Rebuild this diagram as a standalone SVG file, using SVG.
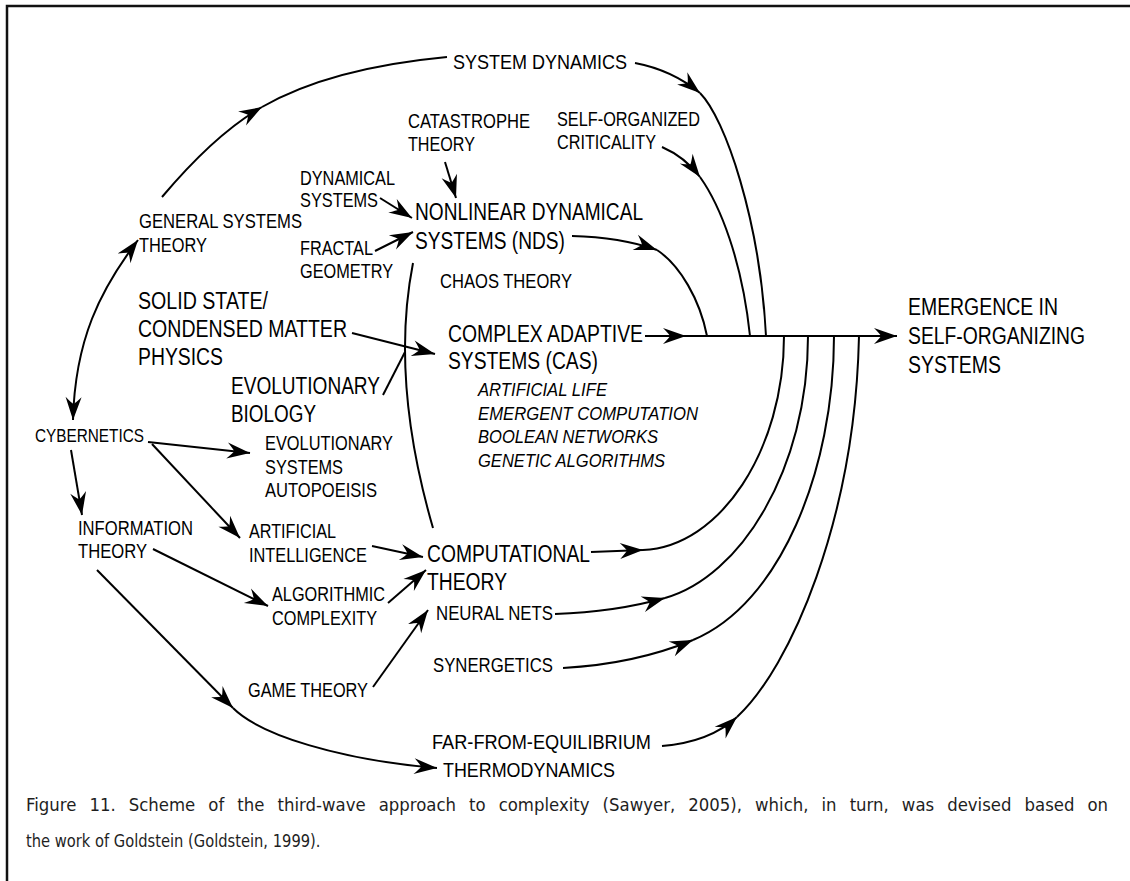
<svg xmlns="http://www.w3.org/2000/svg" width="1130" height="881" viewBox="0 0 1130 881">
  <style>
    text { font-family: "Liberation Sans Narrow", "Liberation Sans", Arial, sans-serif; fill: #000; }
    .L { font-size: 23px; }
    .M { font-size: 21px; }
    .S { font-size: 19px; }
    .I { font-size: 19px; font-style: italic; }
    .cap { font-family: "DejaVu Sans", Verdana, sans-serif; font-size: 17px; fill: #1e1e1e; }
    .ln { fill: none; stroke: #000; stroke-width: 2; }
    .a { marker-end: url(#ah); }
    .frame { fill: none; stroke: #111; stroke-width: 2.5; }
  </style>
  <defs>
    <marker id="ah" markerUnits="userSpaceOnUse" viewBox="-26 -10 28 20" markerWidth="28" markerHeight="20" refX="0" refY="0" orient="auto">
      <path d="M0,0 L-23,-8 Q-17,-2 -16,0 Q-17,2 -23,8 Z" fill="#000"/>
    </marker>
    <marker id="ahs" markerUnits="userSpaceOnUse" viewBox="-26 -10 28 20" markerWidth="28" markerHeight="20" refX="0" refY="0" orient="auto-start-reverse">
      <path d="M0,0 L-23,-8 Q-17,-2 -16,0 Q-17,2 -23,8 Z" fill="#000"/>
    </marker>
  </defs>

  <!-- outer frame (top and left edges) -->
  <path class="frame" d="M7,881 L7,6 L1130,6"/>

  <!-- connectors -->
  <g id="connectors">
    <!-- general systems theory to system dynamics -->
    <path class="ln a" d="M162,197 Q215,134 262,107"/>
    <path class="ln" d="M262,107 Q330,68 447,57"/>
    <!-- cybernetics <-> general systems theory -->
    <path class="ln" marker-start="url(#ahs)" marker-end="url(#ahs)" d="M73,420 C75,340 100,290 138,240"/>
    <!-- system dynamics into the main line -->
    <path class="ln a" d="M635,63 Q672,70 700,93"/>
    <path class="ln" d="M700,93 C725,118 760,220 766,336"/>
    <!-- self-organized criticality into the main line -->
    <path class="ln a" d="M662,147 Q685,157 700,177"/>
    <path class="ln" d="M700,177 C720,205 742,260 750,336"/>
    <!-- NDS into the main line -->
    <path class="ln a" d="M572,236 Q620,237 657,250"/>
    <path class="ln" d="M657,250 C680,265 700,300 707,336"/>
    <!-- CAS into the main line, main line to emergence -->
    <path class="ln a" d="M645,336 L686,336"/>
    <path class="ln a" d="M686,336 L897,336"/>
    <!-- inputs to NDS -->
    <path class="ln a" d="M380,198 L412,218"/>
    <path class="ln a" d="M375,251 L413,232"/>
    <path class="ln a" d="M445,162 L456,198"/>
    <!-- NDS down to computational theory -->
    <path class="ln" d="M413,263 Q390,380 433,528"/>
    <!-- solid state / evolutionary biology to CAS -->
    <path class="ln a" d="M352,333 L435,354"/>
    <path class="ln" d="M383,395 L405,352"/>
    <!-- cybernetics branches -->
    <path class="ln a" d="M148,442 L250,453"/>
    <path class="ln a" d="M152,444 L240,538"/>
    <path class="ln a" d="M71,450 L82,515"/>
    <!-- information theory branches -->
    <path class="ln a" d="M153,549 L268,606"/>
    <path class="ln a" d="M97,570 L233,708"/>
    <path class="ln a" d="M233,708 C260,735 340,760 437,768"/>
    <!-- inputs to computational theory -->
    <path class="ln a" d="M372,546 L423,557"/>
    <path class="ln a" d="M388,603 L426,570"/>
    <path class="ln a" d="M373,687 L428,610"/>
    <!-- lower streams joining the main line -->
    <path class="ln a" d="M591,552 L643,550"/>
    <path class="ln" d="M643,550 C720,547 784,450 784,336"/>
    <path class="ln a" d="M555,614 Q615,612 665,598"/>
    <path class="ln" d="M665,598 C740,577 808,470 808,336"/>
    <path class="ln a" d="M563,668 Q635,664 693,640"/>
    <path class="ln" d="M693,640 C780,604 834,470 834,336"/>
    <path class="ln a" d="M662,746 Q710,742 737,717"/>
    <path class="ln" d="M737,717 C790,668 855,520 859,336"/>
  </g>

  <!-- nodes -->
  <g id="system-dynamics"><text class="M" x="453" y="69" textLength="174" lengthAdjust="spacingAndGlyphs">SYSTEM DYNAMICS</text></g>
  <g id="catastrophe-theory">
    <text class="M" x="408" y="128" textLength="122" lengthAdjust="spacingAndGlyphs">CATASTROPHE</text>
    <text class="M" x="408" y="151" textLength="67" lengthAdjust="spacingAndGlyphs">THEORY</text>
  </g>
  <g id="self-organized-criticality">
    <text class="M" x="557" y="126" textLength="143" lengthAdjust="spacingAndGlyphs">SELF-ORGANIZED</text>
    <text class="M" x="557" y="149" textLength="99" lengthAdjust="spacingAndGlyphs">CRITICALITY</text>
  </g>
  <g id="dynamical-systems">
    <text class="M" x="300" y="185" textLength="95" lengthAdjust="spacingAndGlyphs">DYNAMICAL</text>
    <text class="M" x="300" y="207" textLength="78" lengthAdjust="spacingAndGlyphs">SYSTEMS</text>
  </g>
  <g id="nds">
    <text class="L" x="415" y="220" textLength="228" lengthAdjust="spacingAndGlyphs">NONLINEAR DYNAMICAL</text>
    <text class="L" x="415" y="249" textLength="150" lengthAdjust="spacingAndGlyphs">SYSTEMS (NDS)</text>
  </g>
  <g id="general-systems-theory">
    <text class="M" x="139" y="228" textLength="163" lengthAdjust="spacingAndGlyphs">GENERAL SYSTEMS</text>
    <text class="M" x="139" y="252" textLength="68" lengthAdjust="spacingAndGlyphs">THEORY</text>
  </g>
  <g id="fractal-geometry">
    <text class="M" x="300" y="255" textLength="73" lengthAdjust="spacingAndGlyphs">FRACTAL</text>
    <text class="M" x="300" y="278" textLength="93" lengthAdjust="spacingAndGlyphs">GEOMETRY</text>
  </g>
  <g id="chaos-theory"><text class="M" x="440" y="288" textLength="132" lengthAdjust="spacingAndGlyphs">CHAOS THEORY</text></g>
  <g id="solid-state">
    <text class="L" x="138" y="309" textLength="130" lengthAdjust="spacingAndGlyphs">SOLID STATE/</text>
    <text class="L" x="138" y="337" textLength="209" lengthAdjust="spacingAndGlyphs">CONDENSED MATTER</text>
    <text class="L" x="138" y="365" textLength="85" lengthAdjust="spacingAndGlyphs">PHYSICS</text>
  </g>
  <g id="cas">
    <text class="L" x="448" y="342" textLength="195" lengthAdjust="spacingAndGlyphs">COMPLEX ADAPTIVE</text>
    <text class="L" x="448" y="369" textLength="150" lengthAdjust="spacingAndGlyphs">SYSTEMS (CAS)</text>
    <text class="I" x="478" y="396" textLength="129" lengthAdjust="spacingAndGlyphs">ARTIFICIAL LIFE</text>
    <text class="I" x="478" y="420" textLength="220" lengthAdjust="spacingAndGlyphs">EMERGENT COMPUTATION</text>
    <text class="I" x="478" y="443" textLength="180" lengthAdjust="spacingAndGlyphs">BOOLEAN NETWORKS</text>
    <text class="I" x="478" y="467" textLength="187" lengthAdjust="spacingAndGlyphs">GENETIC ALGORITHMS</text>
  </g>
  <g id="emergence">
    <text class="L" x="908" y="315" textLength="150" lengthAdjust="spacingAndGlyphs">EMERGENCE IN</text>
    <text class="L" x="908" y="344" textLength="177" lengthAdjust="spacingAndGlyphs">SELF-ORGANIZING</text>
    <text class="L" x="908" y="373" textLength="93" lengthAdjust="spacingAndGlyphs">SYSTEMS</text>
  </g>
  <g id="evolutionary-biology">
    <text class="L" x="231" y="394" textLength="149" lengthAdjust="spacingAndGlyphs">EVOLUTIONARY</text>
    <text class="L" x="231" y="422" textLength="85" lengthAdjust="spacingAndGlyphs">BIOLOGY</text>
  </g>
  <g id="cybernetics"><text class="S" x="35" y="442" textLength="109" lengthAdjust="spacingAndGlyphs">CYBERNETICS</text></g>
  <g id="evolutionary-systems">
    <text class="M" x="265" y="450" textLength="128" lengthAdjust="spacingAndGlyphs">EVOLUTIONARY</text>
    <text class="M" x="265" y="474" textLength="78" lengthAdjust="spacingAndGlyphs">SYSTEMS</text>
    <text class="M" x="265" y="497" textLength="112" lengthAdjust="spacingAndGlyphs">AUTOPOEISIS</text>
  </g>
  <g id="information-theory">
    <text class="M" x="78" y="535" textLength="115" lengthAdjust="spacingAndGlyphs">INFORMATION</text>
    <text class="M" x="78" y="558" textLength="69" lengthAdjust="spacingAndGlyphs">THEORY</text>
  </g>
  <g id="artificial-intelligence">
    <text class="M" x="249" y="538" textLength="87" lengthAdjust="spacingAndGlyphs">ARTIFICIAL</text>
    <text class="M" x="249" y="562" textLength="118" lengthAdjust="spacingAndGlyphs">INTELLIGENCE</text>
  </g>
  <g id="computational-theory">
    <text class="L" x="427" y="562" textLength="163" lengthAdjust="spacingAndGlyphs">COMPUTATIONAL</text>
    <text class="L" x="427" y="590" textLength="80" lengthAdjust="spacingAndGlyphs">THEORY</text>
  </g>
  <g id="algorithmic-complexity">
    <text class="M" x="272" y="601" textLength="113" lengthAdjust="spacingAndGlyphs">ALGORITHMIC</text>
    <text class="M" x="272" y="625" textLength="105" lengthAdjust="spacingAndGlyphs">COMPLEXITY</text>
  </g>
  <g id="neural-nets"><text class="M" x="436" y="620" textLength="117" lengthAdjust="spacingAndGlyphs">NEURAL NETS</text></g>
  <g id="synergetics"><text class="M" x="433" y="672" textLength="120" lengthAdjust="spacingAndGlyphs">SYNERGETICS</text></g>
  <g id="game-theory"><text class="M" x="248" y="697" textLength="120" lengthAdjust="spacingAndGlyphs">GAME THEORY</text></g>
  <g id="far-from-equilibrium">
    <text class="M" x="432" y="749" textLength="219" lengthAdjust="spacingAndGlyphs">FAR-FROM-EQUILIBRIUM</text>
    <text class="M" x="443" y="777" textLength="172" lengthAdjust="spacingAndGlyphs">THERMODYNAMICS</text>
  </g>

  <!-- caption: narrowed glyphs, first line justified to the right margin -->
  <g id="caption" transform="scale(0.865,1)">
    <text class="cap" x="30" y="811" word-spacing="8" textLength="1251" lengthAdjust="spacingAndGlyphs">Figure 11. Scheme of the third-wave approach to complexity (Sawyer, 2005), which, in turn, was devised based on</text>
    <text class="cap" x="30" y="847">the work of Goldstein (Goldstein, 1999).</text>
  </g>
</svg>
